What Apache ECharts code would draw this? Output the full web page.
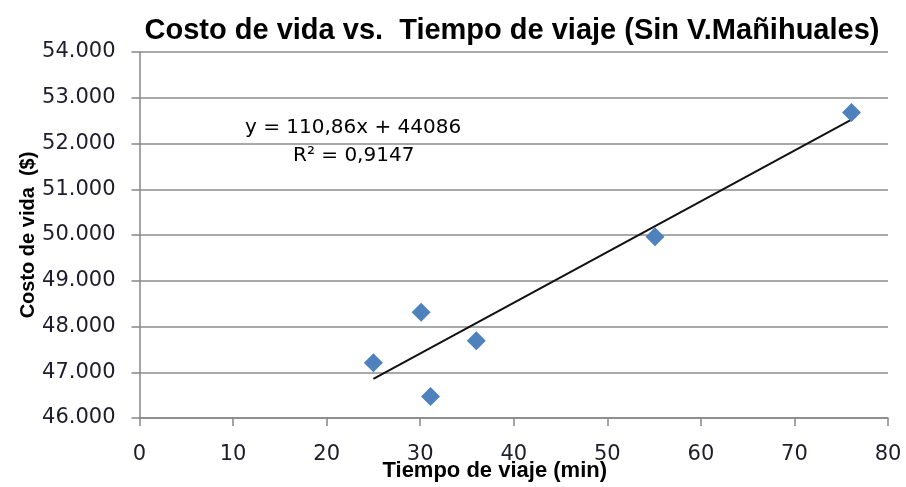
<!DOCTYPE html>
<html><head><meta charset="utf-8">
<script src="https://cdn.jsdelivr.net/npm/echarts@6/dist/echarts.min.js"></script>
<style>html,body{margin:0;padding:0;background:#fff}#c{width:906px;height:487px}</style>
</head><body><div id="c"></div>
<script>
var tiempo = [25.0, 30.1, 31.1, 36.0, 55.1, 76.1];
var costo = [47210, 48310, 46470, 47690, 49960, 52680];
var slope = 110.86, intercept = 44086;
var eqText = 'y = 110,86x + 44086';
var r2Text = 'R² = 0,9147';
var titleText = 'Costo de vida vs.  Tiempo de viaje (Sin V.Mañihuales)';
var xName = 'Tiempo de viaje (min)';
var yName = 'Costo de vida  ($)';

var pts = tiempo.map(function(t,i){return [t, costo[i]];});
var xmin = Math.min.apply(null, tiempo), xmax = Math.max.apply(null, tiempo);
var trend = [[xmin, slope*xmin+intercept],[xmax, slope*xmax+intercept]];

var chart = echarts.init(document.getElementById('c'));
var lab = {fontFamily:'DejaVu Sans', fontSize:21, color:'#1d1d2b'};
var boldFam = "'Liberation Sans',Arial,sans-serif";
chart.setOption({
  animation:false,
  title:{text:titleText, left:507, top:11, textAlign:'center',
    textStyle:{fontFamily:boldFam, fontWeight:'bold', fontSize:29, color:'#000'}},
  grid:{left:139.5, right:18, top:52, bottom:69, containLabel:false, outerBoundsMode:'none'},
  xAxis:{type:'value', min:0, max:80, interval:10,
    axisLine:{show:true, lineStyle:{color:'#868686', width:1.5}},
    axisTick:{show:true, inside:false, length:8, lineStyle:{color:'#868686', width:1.5}},
    splitLine:{show:false},
    axisLabel:Object.assign({margin:26}, lab),
    name:xName, nameLocation:'middle', nameGap:42, nameMoveOverlap:false,
    nameTextStyle:{fontFamily:boldFam, fontWeight:'bold', fontSize:22, color:'#000', padding:[0,38,0,0]}
  },
  yAxis:{type:'value', min:46000, max:54000, interval:1000,
    axisLine:{show:true, lineStyle:{color:'#868686', width:1.5}},
    axisTick:{show:true, inside:false, length:8, lineStyle:{color:'#868686', width:1.5}},
    splitLine:{show:true, lineStyle:{color:'#8c8c8c', width:1.5}},
    axisLabel:Object.assign({margin:24, formatter:function(v){return (v/1000).toFixed(3);}}, lab),
    name:yName, nameLocation:'middle', nameGap:101, nameRotate:90, nameMoveOverlap:false,
    nameTextStyle:{fontFamily:boldFam, fontWeight:'bold', fontSize:20, color:'#000'}
  },
  graphic:[
    {type:'text', left:245, top:118, style:{text:eqText, font:"20px 'DejaVu Sans',sans-serif", fill:'#000'}},
    {type:'text', left:293, top:146, style:{text:r2Text, font:"20px 'DejaVu Sans',sans-serif", fill:'#000'}}
  ],
  series:[
    {type:'line', data:trend, symbol:'none', lineStyle:{color:'#111', width:2}, z:3},
    {type:'scatter', data:pts, symbol:'diamond', symbolSize:[19,19], itemStyle:{color:'#4F81BD', opacity:1}, z:4}
  ]
});
</script></body></html>
